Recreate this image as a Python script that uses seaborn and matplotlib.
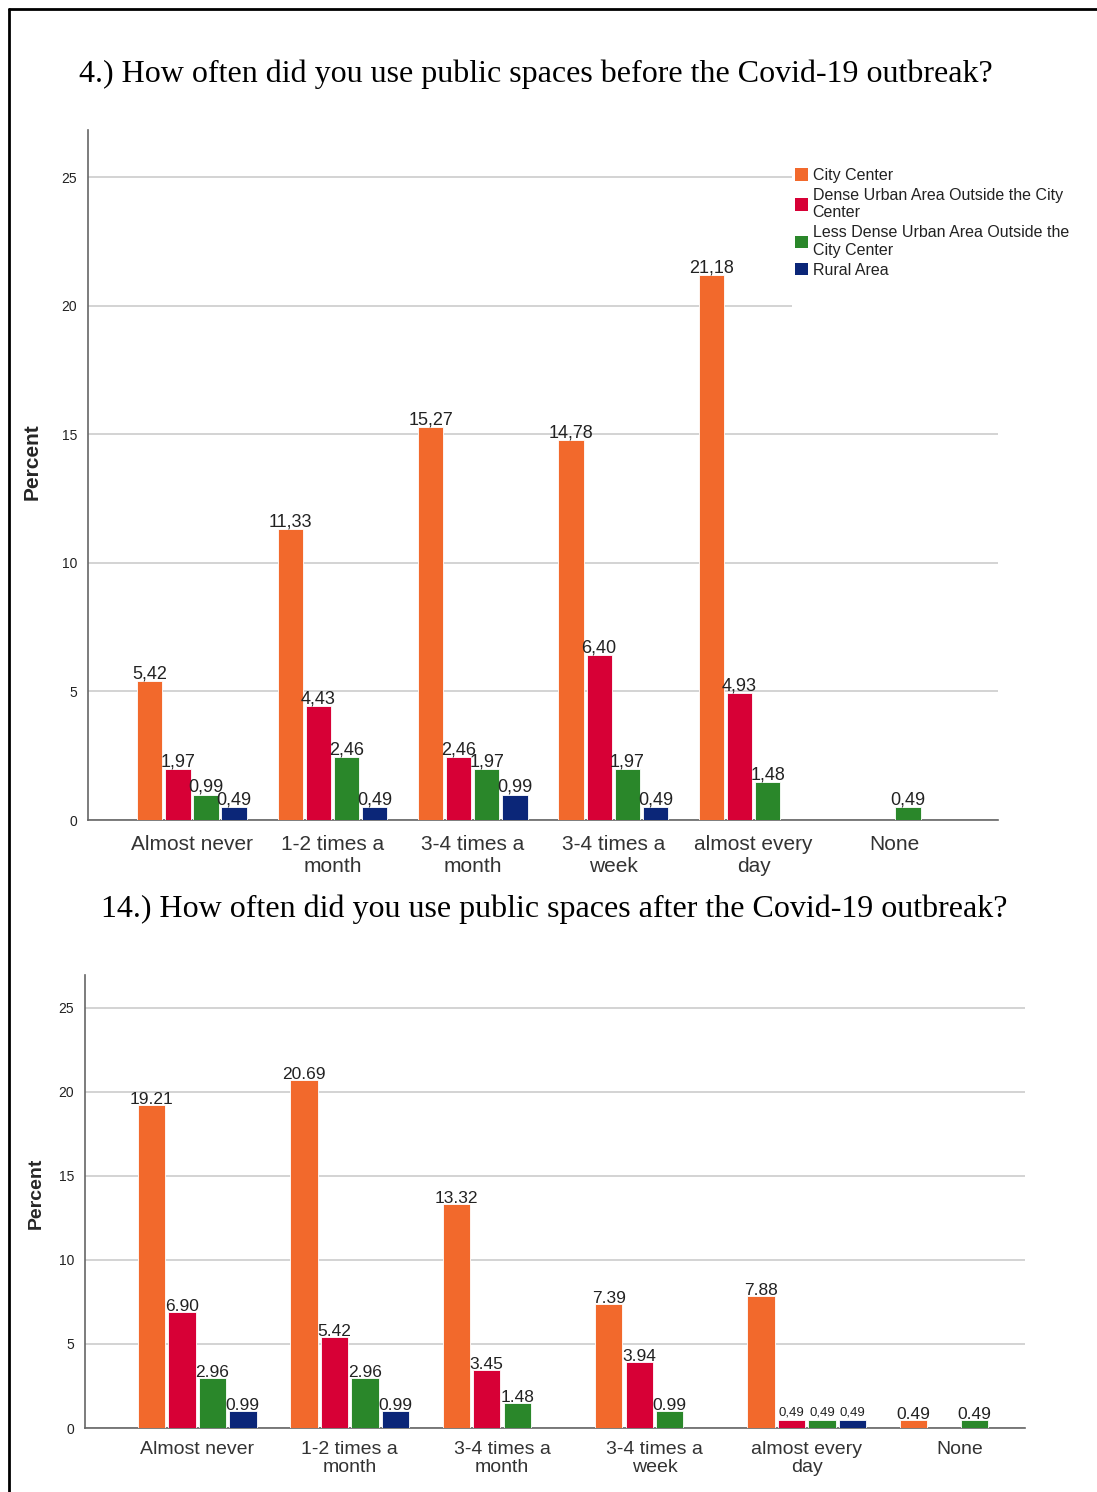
import numpy as np
import pandas as pd
import matplotlib
matplotlib.use("Agg")
import matplotlib.pyplot as plt
from matplotlib.lines import Line2D
from matplotlib.patches import Rectangle
import seaborn as sns

# ---- data -------------------------------------------------------------
categories = ["Almost never", "1-2 times a\nmonth", "3-4 times a\nmonth",
              "3-4 times a\nweek", "almost every\nday", "None"]
areas = ["City Center",
         "Dense Urban Area Outside the City\nCenter",
         "Less Dense Urban Area Outside the\nCity Center",
         "Rural Area"]

# before the outbreak (percent); nan = no respondents
before_city = [5.42, 11.33, 15.27, 14.78, 21.18, np.nan]
before_dense = [1.97, 4.43, 2.46, 6.40, 4.93, np.nan]
before_less = [0.99, 2.46, 1.97, 1.97, 1.48, 0.49]
before_rural = [0.49, 0.49, 0.99, 0.49, np.nan, np.nan]

# after the outbreak (percent)
after_city = [19.21, 20.69, 13.32, 7.39, 7.88, 0.49]
after_dense = [6.90, 5.42, 3.45, 3.94, 0.49, np.nan]
after_less = [2.96, 2.96, 1.48, 0.99, 0.49, 0.49]
after_rural = [0.99, 0.99, np.nan, np.nan, 0.49, np.nan]

y_ticks = [0, 5, 10, 15, 20, 25]

title_before = "4.) How often did you use public spaces before the Covid-19 outbreak?"
title_after = "14.) How often did you use public spaces after the Covid-19 outbreak?"

colors = ["#F2692C", "#D70036", "#2A872A", "#0B2678"]


def long_frame(series_list):
    rows = []
    for area, vals in zip(areas, series_list):
        for cat, v in zip(categories, vals):
            if not np.isnan(v):
                rows.append({"category": cat, "area": area, "percent": v})
    return pd.DataFrame(rows)


df_before = long_frame([before_city, before_dense, before_less, before_rural])
df_after = long_frame([after_city, after_dense, after_less, after_rural])

# ---- styling ----------------------------------------------------------
sns.set_theme(style="white")
plt.rcParams["font.family"] = ["Liberation Sans", "DejaVu Sans"]

fig = plt.figure(figsize=(10.97, 14.92), dpi=100)
W, H = 1097, 1492


def fig_box(left, top, right, bottom):
    return [left / W, 1 - bottom / H, (right - left) / W, (bottom - top) / H]


ax1 = fig.add_axes(fig_box(88, 130, 998, 820))
ax2 = fig.add_axes(fig_box(85, 975, 1025, 1428))


def draw(ax, df, xlim, ylim_top, cat_size, cat_pad, label_fmt):
    sns.barplot(data=df, x="category", y="percent", hue="area",
                order=categories, hue_order=areas, palette=colors,
                width=0.8, gap=0.1, dodge=True, errorbar=None,
                edgecolor="#ffffff", linewidth=0.6, legend=False,
                saturation=1, ax=ax, zorder=3)
    ax.set_xlim(*xlim)
    ax.set_ylim(0, ylim_top)
    ax.set_yticks(y_ticks)
    ax.set_yticklabels([str(t) for t in y_ticks], fontsize=10, color="#222222")
    ax.tick_params(axis="x", labelsize=cat_size, colors="#333333", length=0,
                   pad=cat_pad)
    ax.tick_params(axis="y", length=0, pad=8)
    for lab in ax.get_xticklabels():
        lab.set_linespacing(1.15)
    ax.yaxis.grid(True, color="#cccccc", linewidth=1.2, zorder=0)
    ax.xaxis.grid(False)
    ax.set_axisbelow(True)
    for s in ["top", "right"]:
        ax.spines[s].set_visible(False)
    for s in ["left", "bottom"]:
        ax.spines[s].set_color("#666666")
        ax.spines[s].set_linewidth(1.2)
    ax.set_xlabel("")
    for cont in ax.containers:
        for bar in cont:
            h = bar.get_height()
            if np.isnan(h):
                continue
            cat_idx = int(round(bar.get_x() + bar.get_width() / 2))
            text, size, off = label_fmt(h, cat_idx, bar)
            ax.annotate(text, (bar.get_x() + bar.get_width() / 2, h),
                        xytext=(0, off), textcoords="offset points",
                        ha="center", va="bottom", fontsize=size,
                        color="#222222", zorder=5)


def fmt_before(v, idx, bar):
    return f"{v:.2f}".replace(".", ","), 13, -1


def fmt_after(v, idx, bar):
    # small comma-formatted labels for the minor bars of "almost every day"
    if idx == 4 and bar.get_facecolor()[:3] != matplotlib.colors.to_rgb(colors[0]):
        return f"{v:.2f}".replace(".", ","), 9.5, 1
    return f"{v:.2f}", 12.5, -1.5


draw(ax1, df_before, (-0.74, 5.74), 26.83, 15, 11, fmt_before)
draw(ax2, df_after, (-0.735, 5.43), 26.96, 14, 9, fmt_after)

ax1.set_ylabel("Percent", fontsize=15, fontweight="bold")
ax1.yaxis.set_label_coords((42 - 88) / 910, 0.519)
ax2.set_ylabel("Percent", fontsize=14, fontweight="bold")
ax2.yaxis.set_label_coords((45 - 85) / 940, 0.519)

serif = ["Liberation Serif", "DejaVu Serif"]
fig.text(536 / W, 1 - 74 / H, title_before, ha="center", va="center",
         fontsize=23, family=serif, color="#000000")
fig.text(554 / W, 1 - 909 / H, title_after, ha="center", va="center",
         fontsize=23, family=serif, color="#000000")

# legend area (white panel over the upper gridlines)
fig.add_artist(Rectangle((792 / W, 1 - 312 / H), 1 - 792 / W, 152 / H,
                         transform=fig.transFigure, facecolor="white",
                         edgecolor="none", zorder=2))
handles = [Rectangle((0, 0), 1, 1, facecolor=c, edgecolor="none") for c in colors]
leg = fig.legend(handles, areas, loc="upper left",
                 bbox_to_anchor=(795 / W, 1 - 168 / H),
                 frameon=False, fontsize=11.5, handlelength=0.8,
                 handleheight=0.8, handletextpad=0.3, labelspacing=0.3,
                 borderaxespad=0, borderpad=0)
for t in leg.get_texts():
    t.set_linespacing(1.22)
    t.set_color("#222222")

# page border
fig.add_artist(Line2D([9 / W, 1.0], [1 - 9 / H, 1 - 9 / H],
                      transform=fig.transFigure, color="black", linewidth=2))
fig.add_artist(Line2D([9 / W, 9 / W], [0.0, 1 - 9 / H],
                      transform=fig.transFigure, color="black", linewidth=2))

fig.savefig("out.png", dpi=100, facecolor="white")
